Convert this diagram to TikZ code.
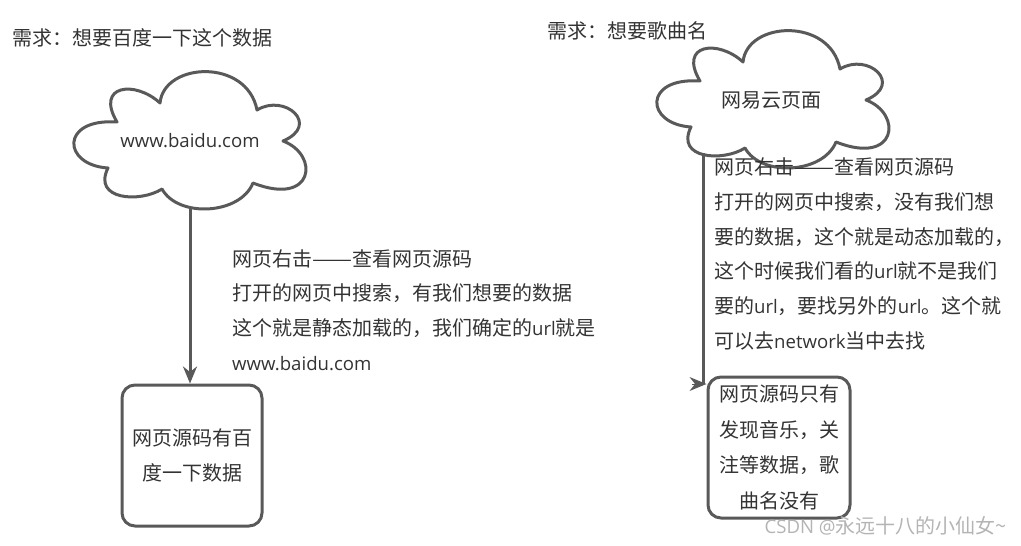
\documentclass[tikz,border=0pt]{standalone}
\usepackage{fontspec}
\setmainfont{Noto Sans CJK SC}
\newfontfamily\latinfont{Open Sans}
\usetikzlibrary{arrows.meta}
\definecolor{linegray}{HTML}{595959}
\definecolor{textgray}{HTML}{333333}
\definecolor{markgray}{HTML}{B4B4B4}
\newcommand{\lat}[1]{{\latinfont\fontsize{18.6pt}{20pt}\selectfont #1}}
\newcommand{\longdash}{\resizebox{40pt}{\height}{——}}
\newcommand{\cloudpath}{(160,103) .. controls (164,62) and (247,58) .. (257,110)
  .. controls (285,93) and (321,125) .. (283,141)
  .. controls (320,155) and (314,207) .. (253,183)
  .. controls (240,215) and (178,218) .. (162,189)
  .. controls (140,203) and (92,200) .. (108,168)
  .. controls (62,165) and (60,118) .. (117,122)
  .. controls (95,85) and (135,80) .. (160,103) -- cycle}
\tikzset{
  outline/.style={draw=linegray,line width=3pt},
  flow/.style={outline,-{Stealth[length=17pt,width=14pt]}}
}
\begin{document}
\begin{tikzpicture}[x=1pt,y=-1pt]
  \useasboundingbox (0,0) rectangle (1021,546);

  \draw[outline,line join=round] \cloudpath;
  \draw[outline,line join=round,shift={(583,-41)}] \cloudpath;

  \begin{scope}[every node/.style={outline,rounded corners=13pt,text=textgray,align=center,inner sep=0pt,font=\fontsize{20pt}{35.5pt}\selectfont}]
    \node[minimum width=140pt,minimum height=141pt] (baidubox) at (192,455.5) {网页源码有百\\度一下数据};
    \node[minimum width=142pt,minimum height=141pt] (musicbox) at (779,447.5) {网页源码只有\\发现音乐，关\\注等数据，歌\\曲名没有};
  \end{scope}

  \begin{scope}[every node/.style={text=textgray,inner sep=0pt,align=left,font=\fontsize{20pt}{34.8pt}\selectfont}]
    \node (baidutext) at (190,141) {\lat{www.baidu.com}};
    \node (musictext) at (771,100) {网易云页面};
    \node[anchor=west] (baiduneed) at (12,38) {需求：想要百度一下这个数据};
    \node[anchor=west] (musicneed) at (547,31) {需求：想要歌曲名};
    \node[anchor=west] (baidunote) at (232,310) {网页右击\longdash 查看网页源码\\打开的网页中搜索，有我们想要的数据\\这个就是静态加载的，我们确定的\lat{url}就是\\\lat{www.baidu.com}};
    \node[anchor=west] (musicnote) at (714,254) {网页右击\longdash 查看网页源码\\打开的网页中搜索，没有我们想\\要的数据，这个就是动态加载的，\\这个时候我们看的\lat{url}就不是我们\\要的\lat{url}，要找另外的\lat{url}。这个就\\可以去\lat{network}当中去找};
  \end{scope}

  \node[text=markgray,inner sep=0pt,anchor=east,font=\fontsize{20pt}{20pt}\selectfont] (mark) at (1007,526) {\lat{CSDN @}永远十八的小仙女\textasciitilde};

  \coordinate (baidutail) at (190,208);
  \coordinate (musictail) at (703,153);
  \coordinate (musicbend) at (703,384);
  \coordinate (musictip) at (692,384);

  \draw[flow] (baidutail) -- (baidutail |- baidubox.north);
  \draw[outline] (musictail) -- (musicbend);
  \draw[flow,line width=0pt] (musictip) -- (musictip -| musicbox.west);
\end{tikzpicture}
\end{document}
